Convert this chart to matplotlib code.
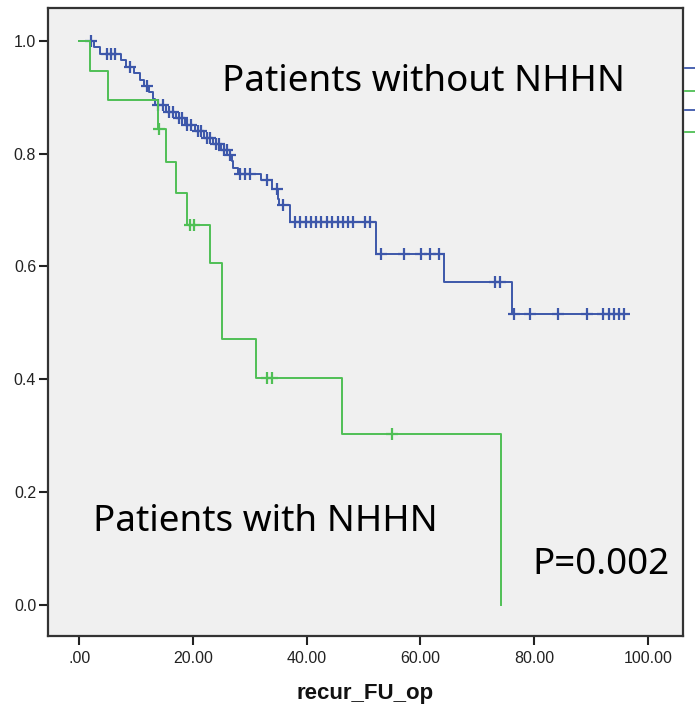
import numpy as np
import matplotlib.pyplot as plt
from matplotlib.lines import Line2D

# Kaplan-Meier curves
# patients without NHHN (blue)
blue_event_t = [2.6, 3.6, 7.3, 8.2, 9.6, 10.6, 11.3, 12.3, 12.9, 13.4,
                15.3, 17.0, 18.6, 20.4, 22.0, 23.5, 25.0, 26.5, 26.9, 27.0,
                27.9, 32.0, 33.9, 34.9, 35.1, 37.0, 52.2, 64.2, 76.2]
blue_event_s = [0.989, 0.977, 0.966, 0.954, 0.943, 0.931, 0.920, 0.909, 0.897, 0.886,
                0.874, 0.863, 0.851, 0.840, 0.828, 0.817, 0.806, 0.798, 0.787, 0.775,
                0.764, 0.753, 0.737, 0.720, 0.709, 0.679, 0.622, 0.573, 0.516]
blue_censor_t = [2.0, 4.8, 5.6, 6.3, 8.9, 11.9,
                 13.9, 14.7, 15.8, 16.4, 17.5, 18.0, 19.0, 19.6, 20.9, 21.5,
                 22.5, 23.0, 24.0, 24.5, 25.5, 26.0, 26.6,
                 28.3, 29.2, 30.0, 33.1, 34.7, 35.9,
                 37.9, 38.9, 39.8, 40.8, 41.7, 42.6, 43.6, 44.5, 45.5, 46.4, 47.3, 48.1,
                 50.3, 51.1,
                 53.1, 57.1, 60.2, 61.7, 63.2, 73.1, 74.0,
                 76.4, 79.3, 84.3, 89.3, 92.2, 93.1, 94.0, 95.0, 95.8]
blue_end = 96.3

# patients with NHHN (green)
green_event_t = [1.9, 5.0, 13.9, 15.2, 17.1, 19.0, 23.0, 25.1, 31.0, 46.2, 74.2]
green_event_s = [0.947, 0.895, 0.843, 0.785, 0.730, 0.674, 0.606, 0.471, 0.403, 0.303, 0.0]
green_censor_t = [14.1, 19.4, 20.1, 33.1, 33.9, 55.1]
green_end = 74.2

xticks = [0, 20, 40, 60, 80, 100]
xticklabels = ['.00', '20.00', '40.00', '60.00', '80.00', '100.00']
yticks = [0.0, 0.2, 0.4, 0.6, 0.8, 1.0]
yticklabels = ['0.0', '0.2', '0.4', '0.6', '0.8', '1.0']

blue = '#3d57aa'
green = '#4fbf55'


def km_path(ev_t, ev_s, end):
    t = np.r_[0.0, ev_t, end]
    s = np.r_[1.0, ev_s, ev_s[-1]]
    return t, s


def level_at(ev_t, ev_s, x):
    idx = np.searchsorted(ev_t, x, side='right')
    lv = np.r_[1.0, ev_s]
    return lv[idx]


fig = plt.figure(figsize=(6.95, 7.24), dpi=100)
ax = fig.add_axes([0.0686, 0.1215, 0.9141, 0.8675])
ax.set_facecolor('#f0f0f0')

for ev_t, ev_s, cens, end, col in [
        (blue_event_t, blue_event_s, blue_censor_t, blue_end, blue),
        (green_event_t, green_event_s, green_censor_t, green_end, green)]:
    t, s = km_path(ev_t, ev_s, end)
    ax.step(t, s, where='post', color=col, lw=1.4)
    ax.plot(cens, level_at(ev_t, ev_s, np.array(cens)), ls='none', marker='+',
            ms=9, mew=1.6, color=col)

ax.set_xlim(-5.56, 106.2)
ax.set_ylim(-0.0555, 1.0585)
ax.set_xticks(xticks)
ax.set_xticklabels(xticklabels)
ax.set_yticks(yticks)
ax.set_yticklabels(yticklabels)
ax.tick_params(direction='out', length=6.8, width=1.5, color='#222222',
               labelsize=11.5, labelcolor='#222222')
for lab in ax.get_xticklabels() + ax.get_yticklabels():
    lab.set_family('Liberation Sans')
ax.tick_params(axis='x', pad=4)
ax.tick_params(axis='y', pad=1.5)
for sp in ax.spines.values():
    sp.set_linewidth(1.6)
    sp.set_color('#333333')

ax.set_xlabel('recur_FU_op', fontsize=16, fontweight='bold',
              family='Liberation Sans', labelpad=12, color='#111111')

ax.text(60.6, 0.927, 'Patients without NHHN', fontsize=26.5, family='Noto Sans',
        ha='center', va='center')
ax.text(32.8, 0.147, 'Patients with NHHN', fontsize=26.5, family='Noto Sans',
        ha='center', va='center')
ax.text(91.8, 0.070, 'P=0.002', fontsize=26.5, family='Noto Sans',
        ha='center', va='center')

# legend swatches cut off at the right edge
for yp, col in [(68, blue), (91, green), (110, blue), (132, green)]:
    yf = 1 - yp / 724
    fig.add_artist(Line2D([0.985, 1.0], [yf, yf], color=col, lw=1.3))

fig.savefig('out.png', dpi=100)
